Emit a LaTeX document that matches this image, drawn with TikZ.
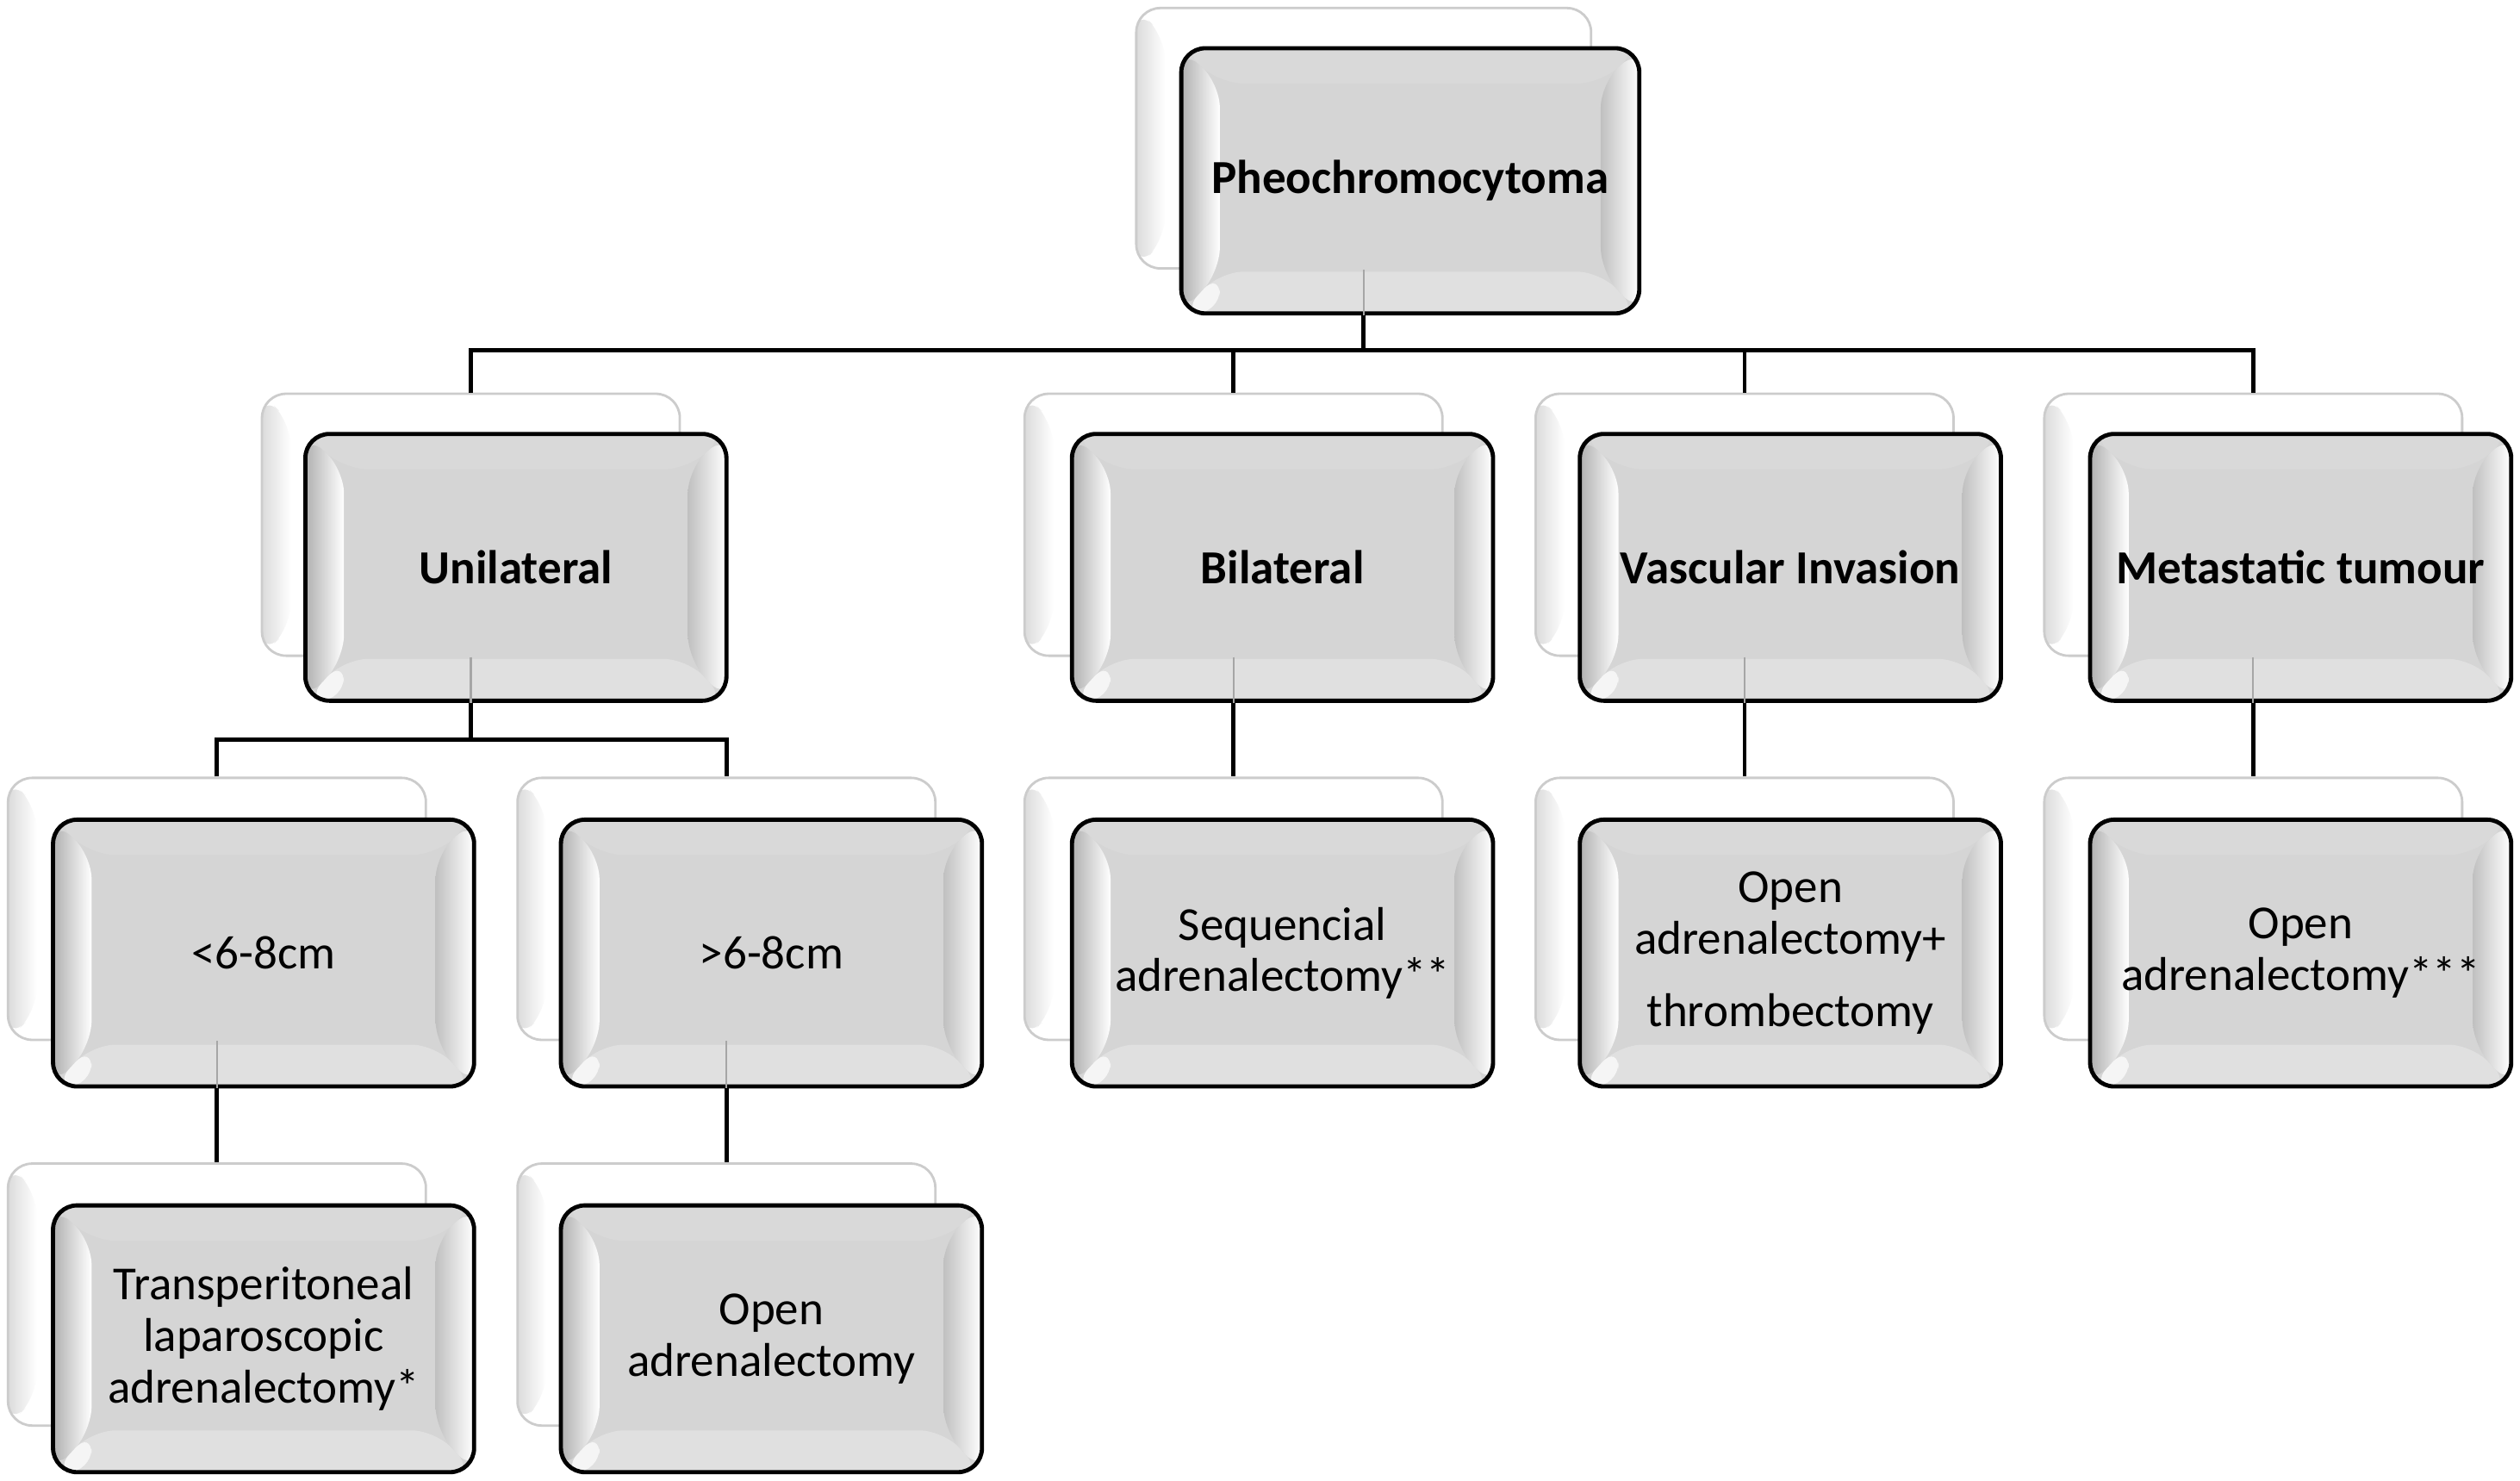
\documentclass[tikz,border=0pt]{standalone}
\usepackage{fontspec}
\setmainfont{Carlito}
\usetikzlibrary{calc}
\definecolor{boxgray}{HTML}{D5D5D5}
\definecolor{bevtop}{HTML}{D9D9D9}
\definecolor{bevbot}{HTML}{E0E0E0}
\definecolor{bevleft}{HTML}{B0B0B0}
\definecolor{bevright}{HTML}{C0C0C0}
\definecolor{backline}{HTML}{CCCCCC}
\tikzset{
  txt/.style={font=\fontsize{29.5}{32}\selectfont, align=center, text=black},
  boldtxt/.style={font=\fontsize{29.5}{32}\selectfont\bfseries},
  backbox/.style={rectangle, rounded corners=15pt, fill=white, draw=backline,
    line width=1.5pt, minimum width=260pt, minimum height=163pt, inner sep=0pt,
    path picture={
      \path (path picture bounding box.south west) coordinate (bksw)
            (path picture bounding box.north east) coordinate (bkne);
      \shade[left color=black!14, right color=white]
        (bksw) -- ($(bksw)+(18pt,18pt)$) -- ($(bksw|-bkne)+(18pt,-18pt)$) -- (bksw|-bkne) -- cycle;
    }},
  frontbox/.style={rectangle, rounded corners=15pt, fill=boxgray, draw=black,
    line width=2.6pt, minimum width=262pt, minimum height=166pt, inner sep=0pt, txt,
    path picture={
      \path (path picture bounding box.south west) coordinate (bvsw)
            (path picture bounding box.north east) coordinate (bvne);
      \fill[bevtop] (bvsw|-bvne) -- ($(bvsw|-bvne)+(24pt,-22pt)$) -- ($(bvne)+(-24pt,-22pt)$) -- (bvne) -- cycle;
      \fill[bevbot] (bvsw) -- ($(bvsw)+(24pt,26pt)$) -- ($(bvne|-bvsw)+(-24pt,26pt)$) -- (bvne|-bvsw) -- cycle;
      \shade[left color=bevleft, right color=white]
        (bvsw) -- ($(bvsw)+(24pt,26pt)$) -- ($(bvsw|-bvne)+(24pt,-22pt)$) -- (bvsw|-bvne) -- cycle;
      \shade[left color=bevright, right color=white]
        (bvne) -- ($(bvne)+(-24pt,-22pt)$) -- ($(bvne|-bvsw)+(-24pt,26pt)$) -- (bvne|-bvsw) -- cycle;
      \fill[white, opacity=0.7] (bvsw) -- ($(bvsw)+(24pt,26pt)$) -- ($(bvsw)+(24pt,0pt)$) -- cycle;
    }},
  conn/.style={draw=black, line width=2.6pt},
  faint/.style={draw=black!35, line width=1.2pt}
}
\begin{document}
\begin{tikzpicture}[x=1pt,y=-1pt]
\useasboundingbox[fill=white] (0,0) rectangle (1568,921);

% back boxes
\node[backbox, minimum width=283pt, minimum height=162pt] (pB) at (848.5,86) {};
\node[backbox] (uB) at (293,326.5) {};
\node[backbox] (bB) at (767.5,326.5) {};
\node[backbox] (vB) at (1085.5,326.5) {};
\node[backbox] (mB) at (1402,326.5) {};
\node[backbox] (lB) at (135,565.5) {};
\node[backbox] (gB) at (452,565.5) {};
\node[backbox] (sB) at (767.5,565.5) {};
\node[backbox] (tB) at (1085.5,565.5) {};
\node[backbox] (oB) at (1402,565.5) {};
\node[backbox] (aB) at (135,805.5) {};
\node[backbox] (cB) at (452,805.5) {};

\coordinate (bus1) at (0,218);
\coordinate (bus2) at (0,460);

% connectors
\draw[conn] (pB.south) -- (pB.south |- bus1);
\draw[conn] (uB.north) |- (mB.north |- bus1) -- (mB.north);
\draw[conn] (bB.north) -- (bB.north |- bus1);
\draw[conn] (vB.north) -- (vB.north |- bus1);
\draw[conn] (uB.south) -- (uB.south |- bus2);
\draw[conn] (lB.north) |- (gB.north |- bus2) -- (gB.north);
\draw[conn] (bB.south) -- (sB.north);
\draw[conn] (vB.south) -- (tB.north);
\draw[conn] (mB.south) -- (oB.north);
\draw[conn] (lB.south) -- (aB.north);
\draw[conn] (gB.south) -- (cB.north);

% front boxes
\node[frontbox, boldtxt, minimum width=285pt, minimum height=165pt] (pF) at (877.5,112.5) {Pheochromocytoma};
\node[frontbox, boldtxt] (uF) at (321,353) {Unilateral};
\node[frontbox, boldtxt] (bF) at (798,353) {Bilateral};
\node[frontbox, boldtxt] (vF) at (1114,353) {Vascular Invasion};
\node[frontbox, boldtxt] (mF) at (1431.5,353) {Metastatic tumour};
\node[frontbox] (lF) at (164,593) {<6-8cm};
\node[frontbox] (gF) at (480,593) {>6-8cm};
\node[frontbox] (sF) at (798,593) {Sequencial\\adrenalectomy**};
\node[frontbox] (tF) at (1114,593) {Open\\adrenalectomy+\\[13pt]thrombectomy};
\node[frontbox] (oF) at (1431.5,593) {Open\\adrenalectomy***};
\node[frontbox] (aF) at (164,833) {Transperitoneal\\laparoscopic\\adrenalectomy*};
\node[frontbox] (cF) at (480,833) {Open\\adrenalectomy};

% faint connector parts seen through the front boxes
\draw[faint] (pB.south) -- (pB.south |- pF.south);
\draw[faint] (uB.south) -- (uB.south |- uF.south);
\draw[faint] (bB.south) -- (bB.south |- bF.south);
\draw[faint] (vB.south) -- (vB.south |- vF.south);
\draw[faint] (mB.south) -- (mB.south |- mF.south);
\draw[faint] (lB.south) -- (lB.south |- lF.south);
\draw[faint] (gB.south) -- (gB.south |- gF.south);
\end{tikzpicture}
\end{document}
